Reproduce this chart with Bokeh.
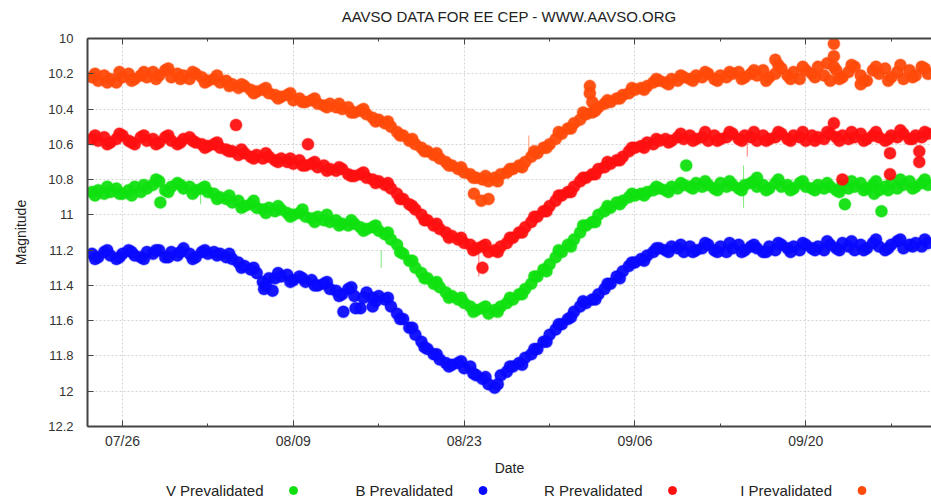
from bokeh.plotting import figure
from bokeh.layouts import column
from bokeh.models import Range1d, FixedTicker, LinearAxis
from bokeh.embed import file_html
from bokeh.resources import INLINE
from bokeh.core.properties import value

# ---------------- data (days relative to 07/26) ----------------
days = [-2.5, -2.0, -1.5, -1.0, -0.5, 0.0, 0.5, 1.0, 1.5, 2.0,
        2.5, 3.0, 3.5, 4.0, 4.5, 5.0, 5.5, 6.0, 6.5, 7.0,
        7.5, 8.0, 8.5, 9.0, 9.5, 10.0, 10.5, 11.0, 11.5, 12.0,
        12.5, 13.0, 13.5, 14.0, 14.5, 15.0, 15.5, 16.0, 16.5, 17.0,
        17.5, 18.0, 18.5, 19.0, 19.5, 20.0, 20.5, 21.0, 21.5, 22.0,
        22.5, 23.0, 23.5, 24.0, 24.5, 25.0, 25.5, 26.0, 26.5, 27.0,
        27.5, 28.0, 28.5, 29.0, 29.5, 30.0, 30.5, 31.0, 31.5, 32.0,
        32.5, 33.0, 33.5, 34.0, 34.5, 35.0, 35.5, 36.0, 36.5, 37.0,
        37.5, 38.0, 38.5, 39.0, 39.5, 40.0, 40.5, 41.0, 41.5, 42.0,
        42.5, 43.0, 43.5, 44.0, 44.5, 45.0, 45.5, 46.0, 46.5, 47.0,
        47.5, 48.0, 48.5, 49.0, 49.5, 50.0, 50.5, 51.0, 51.5, 52.0,
        52.5, 53.0, 53.5, 54.0, 54.5, 55.0, 55.5, 56.0, 56.5, 57.0,
        57.5, 58.0, 58.5, 59.0, 59.5, 60.0, 60.5, 61.0, 61.5, 62.0,
        62.5, 63.0, 63.5, 64.0, 64.5, 65.0, 65.5, 66.0]

mag_V = [10.87, 10.86, 10.88, 10.87, 10.85, 10.88, 10.86, 10.84, 10.87, 10.85,
         10.83, 10.81, 10.86, 10.84, 10.82, 10.85, 10.84, 10.86, 10.85, 10.87,
         10.88, 10.90, 10.91, 10.93, 10.92, 10.95, 10.94, 10.96, 10.97, 10.96,
         10.98, 10.97, 10.99, 11.00, 10.99, 11.01, 11.02, 11.01, 11.03, 11.04,
         11.03, 11.05, 11.06, 11.05, 11.07, 11.08, 11.07, 11.09, 11.11, 11.14,
         11.17, 11.22, 11.26, 11.30, 11.33, 11.36, 11.39, 11.41, 11.44, 11.46,
         11.48, 11.50, 11.52, 11.54, 11.53, 11.56, 11.54, 11.52, 11.50, 11.48,
         11.45, 11.42, 11.39, 11.35, 11.31, 11.28, 11.24, 11.21, 11.17, 11.14,
         11.10, 11.06, 11.04, 11.00, 10.98, 10.96, 10.93, 10.92, 10.90, 10.89,
         10.88, 10.87, 10.86, 10.85, 10.86, 10.84, 10.85, 10.83, 10.84, 10.82,
         10.84, 10.83, 10.85, 10.82, 10.84, 10.83, 10.85, 10.83, 10.82, 10.84,
         10.83, 10.85, 10.82, 10.84, 10.83, 10.85, 10.82, 10.84, 10.85, 10.83,
         10.85, 10.84, 10.86, 10.83, 10.85, 10.84, 10.82, 10.85, 10.83, 10.86,
         10.84, 10.82, 10.85, 10.83, 10.81, 10.84, 10.82, 10.83]

mag_B = [11.22, 11.24, 11.21, 11.23, 11.25, 11.22, 11.20, 11.23, 11.24, 11.21,
         11.22, 11.20, 11.24, 11.21, 11.23, 11.19, 11.22, 11.24, 11.21, 11.22,
         11.21, 11.22, 11.24, 11.25, 11.27, 11.29, 11.31, 11.33, 11.38, 11.36,
         11.36, 11.35, 11.34, 11.37, 11.35, 11.38, 11.37, 11.40, 11.39, 11.42,
         11.43, 11.45, 11.42, 11.46, 11.53, 11.44, 11.47, 11.46, 11.48, 11.52,
         11.56, 11.59, 11.64, 11.68, 11.72, 11.76, 11.79, 11.82, 11.84, 11.85,
         11.84, 11.87, 11.86, 11.91, 11.93, 11.96, 11.98, 11.91, 11.89, 11.86,
         11.84, 11.81, 11.79, 11.76, 11.72, 11.68, 11.65, 11.62, 11.59, 11.55,
         11.52, 11.50, 11.48, 11.45, 11.42, 11.39, 11.35, 11.32, 11.29, 11.27,
         11.25, 11.23, 11.21, 11.19, 11.20, 11.18, 11.19, 11.21, 11.18, 11.20,
         11.19, 11.17, 11.20, 11.18, 11.21, 11.19, 11.17, 11.20, 11.18, 11.19,
         11.21, 11.18, 11.20, 11.17, 11.19, 11.18, 11.20, 11.17, 11.19, 11.18,
         11.20, 11.17, 11.19, 11.16, 11.18, 11.20, 11.17, 11.19, 11.16, 11.18,
         11.20, 11.17, 11.15, 11.19, 11.17, 11.16, 11.18, 11.16]

mag_R = [10.57, 10.58, 10.56, 10.59, 10.57, 10.55, 10.58, 10.60, 10.56, 10.58,
         10.57, 10.59, 10.56, 10.58, 10.60, 10.57, 10.56, 10.59, 10.60, 10.61,
         10.60, 10.62, 10.63, 10.64, 10.66, 10.65, 10.67, 10.66, 10.68, 10.67,
         10.69, 10.68, 10.70, 10.71, 10.69, 10.72, 10.71, 10.73, 10.72, 10.74,
         10.75, 10.74, 10.77, 10.78, 10.77, 10.79, 10.80, 10.81, 10.83, 10.85,
         10.88, 10.91, 10.94, 10.97, 11.00, 11.03, 11.06, 11.08, 11.10, 11.12,
         11.14, 11.16, 11.17, 11.19, 11.18, 11.21, 11.20, 11.18, 11.16, 11.13,
         11.10, 11.07, 11.04, 11.01, 10.98, 10.95, 10.92, 10.89, 10.87, 10.84,
         10.81, 10.79, 10.77, 10.74, 10.73, 10.71, 10.69, 10.67, 10.64, 10.62,
         10.61, 10.59, 10.60, 10.58, 10.57, 10.58, 10.56, 10.57, 10.55, 10.57,
         10.56, 10.58, 10.55, 10.57, 10.56, 10.54, 10.57, 10.55, 10.56, 10.58,
         10.55, 10.57, 10.56, 10.54, 10.57, 10.55, 10.56, 10.58, 10.55, 10.56,
         10.57, 10.54, 10.56, 10.55, 10.57, 10.56, 10.54, 10.57, 10.55, 10.56,
         10.58, 10.55, 10.56, 10.54, 10.57, 10.55, 10.56, 10.54]

mag_I = [10.22, 10.24, 10.21, 10.23, 10.25, 10.22, 10.20, 10.23, 10.21, 10.22,
         10.19, 10.21, 10.18, 10.22, 10.20, 10.21, 10.23, 10.20, 10.22, 10.24,
         10.23, 10.25, 10.24, 10.26, 10.28, 10.27, 10.29, 10.30, 10.29, 10.31,
         10.32, 10.33, 10.32, 10.35, 10.34, 10.36, 10.35, 10.37, 10.38, 10.37,
         10.39, 10.40, 10.39, 10.42, 10.41, 10.43, 10.45, 10.46, 10.48, 10.50,
         10.53, 10.55, 10.58, 10.60, 10.62, 10.64, 10.66, 10.68, 10.70, 10.72,
         10.74, 10.76, 10.77, 10.79, 10.80, 10.81, 10.79, 10.77, 10.76, 10.74,
         10.72, 10.70, 10.67, 10.65, 10.62, 10.60, 10.57, 10.54, 10.51, 10.48,
         10.46, 10.43, 10.42, 10.39, 10.37, 10.36, 10.34, 10.32, 10.31, 10.29,
         10.28, 10.27, 10.25, 10.24, 10.25, 10.23, 10.24, 10.22, 10.23, 10.21,
         10.22, 10.20, 10.23, 10.21, 10.22, 10.20, 10.19, 10.22, 10.20, 10.21,
         10.18, 10.22, 10.20, 10.17, 10.21, 10.19, 10.23, 10.18, 10.20, 10.16,
         10.21, 10.24, 10.18, 10.22, 10.19, 10.16, 10.21, 10.24, 10.18, 10.20,
         10.17, 10.22, 10.19, 10.23, 10.18, 10.21, 10.16, 10.20]

# second nightly observations
days2 = [-2.25, -1.25, -0.25, 0.75, 1.75, 2.75, 3.75, 4.75, 5.75, 6.75,
         7.75, 8.75, 9.75, 10.75, 11.75, 12.75, 13.75, 14.75, 15.75, 16.75,
         17.75, 18.75, 19.75, 20.75, 21.75, 22.75, 23.75, 24.75, 25.75, 26.75,
         27.75, 28.75, 29.75, 30.75, 31.75, 32.75, 33.75, 34.75, 35.75, 36.75,
         37.75, 38.75, 39.75, 40.75, 41.75, 42.75, 43.75, 44.75, 45.75, 46.75,
         47.75, 48.75, 49.75, 50.75, 51.75, 52.75, 53.75, 54.75, 55.75, 56.75,
         57.75, 58.75, 59.75, 60.75, 61.75, 62.75, 63.75, 64.75, 65.75]

mag_V2 = [10.89, 10.84, 10.88, 10.89, 10.83, 10.80, 10.87, 10.83, 10.88, 10.84,
          10.91, 10.89, 10.96, 10.92, 10.99, 10.95, 11.01, 10.97, 11.04, 11.00,
          11.06, 11.03, 11.09, 11.06, 11.10, 11.21, 11.26, 11.36, 11.38, 11.47,
          11.47, 11.55, 11.52, 11.55, 11.47, 11.45, 11.35, 11.32, 11.20, 11.18,
          11.06, 11.04, 10.95, 10.94, 10.88, 10.89, 10.84, 10.87, 10.82, 10.85,
          10.81, 10.86, 10.81, 10.86, 10.81, 10.86, 10.80, 10.86, 10.81, 10.86,
          10.82, 10.87, 10.81, 10.86, 10.81, 10.86, 10.80, 10.85, 10.80]

mag_B2 = [11.25, 11.20, 11.24, 11.21, 11.25, 11.20, 11.24, 11.21, 11.25, 11.20,
          11.23, 11.22, 11.30, 11.30, 11.40, 11.33, 11.38, 11.36, 11.40, 11.38,
          11.46, 11.41, 11.47, 11.49, 11.47, 11.59, 11.64, 11.75, 11.79, 11.86,
          11.83, 11.90, 11.92, 11.96, 11.86, 11.85, 11.76, 11.72, 11.62, 11.58,
          11.49, 11.48, 11.39, 11.36, 11.27, 11.26, 11.19, 11.21, 11.17, 11.21,
          11.16, 11.21, 11.16, 11.21, 11.17, 11.21, 11.16, 11.21, 11.16, 11.20,
          11.15, 11.20, 11.15, 11.20, 11.14, 11.19, 11.14, 11.18, 11.14]

mag_R2 = [10.55, 10.60, 10.54, 10.59, 10.55, 10.60, 10.55, 10.59, 10.58, 10.62,
          10.59, 10.64, 10.63, 10.68, 10.65, 10.70, 10.68, 10.72, 10.70, 10.75,
          10.73, 10.78, 10.76, 10.82, 10.82, 10.91, 10.95, 11.03, 11.05, 11.13,
          11.13, 11.20, 11.17, 11.21, 11.13, 11.10, 11.01, 10.98, 10.89, 10.87,
          10.79, 10.77, 10.70, 10.69, 10.62, 10.62, 10.57, 10.59, 10.54, 10.58,
          10.53, 10.58, 10.53, 10.58, 10.53, 10.58, 10.53, 10.58, 10.53, 10.58,
          10.53, 10.58, 10.53, 10.58, 10.53, 10.57, 10.52, 10.57, 10.53]

mag_I2 = [10.20, 10.25, 10.19, 10.24, 10.19, 10.23, 10.17, 10.23, 10.19, 10.25,
          10.21, 10.27, 10.26, 10.31, 10.28, 10.34, 10.31, 10.36, 10.34, 10.39,
          10.37, 10.42, 10.40, 10.47, 10.47, 10.55, 10.57, 10.64, 10.65, 10.72,
          10.73, 10.79, 10.78, 10.81, 10.74, 10.73, 10.64, 10.62, 10.53, 10.51,
          10.42, 10.41, 10.35, 10.34, 10.28, 10.29, 10.23, 10.26, 10.21, 10.24,
          10.19, 10.24, 10.19, 10.23, 10.18, 10.24, 10.15, 10.23, 10.16, 10.22,
          10.14, 10.23, 10.15, 10.24, 10.16, 10.24, 10.15, 10.22, 10.17]

# isolated observations away from the main band
extra_V_days = [3.1, 46.2, 52.0, 59.2, 61.6, 62.2]
extra_V_mags = [10.93, 10.72, 10.79, 10.94, 10.88, 10.98]
extra_B_days = [11.6, 12.3, 18.1, 19.1, 20.5]
extra_B_mags = [11.42, 11.43, 11.55, 11.53, 11.52]
extra_R_days = [9.3, 15.2, 29.5, 58.3, 59.0, 62.9, 62.9, 65.3, 65.3]
extra_R_mags = [10.49, 10.60, 11.30, 10.48, 10.80, 10.65, 10.77, 10.64, 10.70]
extra_I_days = [28.8, 29.4, 30.0, 38.3, 38.3, 38.5, 53.5, 58.3, 58.3, 58.3, 60.5]
extra_I_mags = [10.88, 10.92, 10.91, 10.27, 10.31, 10.36, 10.12, 10.03, 10.10, 10.16, 10.26]

# error bars
err_days = [6.4, 21.2, 50.9, 33.3, 29.2, 51.2]
err_lo = [10.82, 11.20, 10.72, 10.55, 11.15, 10.58]
err_hi = [10.94, 11.30, 10.96, 10.70, 11.35, 10.67]
err_color = ["#7be87b", "#7be87b", "#7be87b", "#ff9a70", "#ff7b7b", "#ff7b7b"]

title_text = "AAVSO DATA FOR EE CEP - WWW.AAVSO.ORG"
series_names = ["V Prevalidated", "B Prevalidated", "R Prevalidated", "I Prevalidated"]
series_colors = ["#10e010", "#0a0aff", "#ff1010", "#ff4a0a"]

xtick_values = [0, 14, 28, 42, 56]
xtick_labels = ["07/26", "08/09", "08/23", "09/06", "09/20"]
xminor_values = [7, 21, 35, 49, 63]
ytick_values = [10.0, 10.2, 10.4, 10.6, 10.8, 11.0, 11.2, 11.4, 11.6, 11.8, 12.0, 12.2]
ytick_labels = ["10", "10.2", "10.4", "10.6", "10.8", "11", "11.2", "11.4", "11.6", "11.8", "12", "12.2"]

FONT = "Liberation Sans"
AX = "#444444"
W = 931
frame_left = 87


def strip(height):
    # column aligns this strip's frame with the main plot frame (87..931),
    # so the range is set to match pixel positions across the page
    f = figure(width=W, height=height, x_range=Range1d(frame_left, W), y_range=Range1d(0, height),
               output_backend="svg", toolbar_location=None,
               min_border=0, min_border_left=frame_left)
    f.axis.visible = False
    f.grid.visible = False
    f.outline_line_color = None
    return f


# title strip
head = strip(28)
head.text(x=[(frame_left + W) / 2], y=[12], text=[title_text], text_align="center",
          text_baseline="middle", text_font=value(FONT), text_font_size="15px",
          text_color="#222222")

p = figure(width=W, height=450, x_range=Range1d(-2.87, 66.3), y_range=Range1d(12.2, 10.0),
           output_backend="svg", toolbar_location=None,
           min_border_left=frame_left, min_border_right=0, min_border_top=10, min_border_bottom=50)
p.outline_line_color = None
p.background_fill_color = "white"
p.border_fill_color = "white"

bottom = p.below[0]
left = p.left[0]
bottom.ticker = FixedTicker(ticks=xtick_values, minor_ticks=xminor_values)
left.ticker = FixedTicker(ticks=ytick_values, minor_ticks=[])
bottom.major_label_overrides = dict(zip(xtick_values, xtick_labels))
left.major_label_overrides = dict(zip(ytick_values, ytick_labels))

# top frame edge with inward ticks, no labels
top = LinearAxis(ticker=FixedTicker(ticks=xtick_values, minor_ticks=xminor_values))
top.major_label_overrides = {t: "" for t in xtick_values}
top.major_label_standoff = 0
p.add_layout(top, "above")

for ax in [bottom, left, top]:
    ax.axis_line_color = AX
    ax.axis_line_width = 2
    ax.major_tick_in = 6
    ax.major_tick_out = 0
    ax.minor_tick_in = 3
    ax.minor_tick_out = 0
    ax.major_tick_line_color = AX
    ax.minor_tick_line_color = AX
    ax.major_tick_line_width = 1
    ax.major_label_text_font = FONT
    ax.axis_label_text_font = FONT
    ax.axis_label_text_font_style = "normal"
    ax.axis_label_text_color = "#222222"
    ax.major_label_text_color = "#333333"

bottom.major_label_text_font_size = "14px"
left.major_label_text_font_size = "13px"
bottom.axis_label = "Date"
left.axis_label = "Magnitude"
bottom.axis_label_text_font_size = "14px"
left.axis_label_text_font_size = "14px"
bottom.major_label_standoff = 6
bottom.axis_label_standoff = 8
left.major_label_standoff = 14
left.axis_label_standoff = 16

p.xgrid.grid_line_color = "#cfd8e0"
p.xgrid.grid_line_dash = "2 2"
p.ygrid.grid_line_color = "#d4d4d4"
p.ygrid.grid_line_dash = "2 2"

# error bars
p.segment(x0=err_days, y0=err_lo, x1=err_days, y1=err_hi, line_color=err_color, line_width=1)

all_mags = [mag_V, mag_B, mag_R, mag_I]
all_mags2 = [mag_V2, mag_B2, mag_R2, mag_I2]
extra_d = [extra_V_days, extra_B_days, extra_R_days, extra_I_days]
extra_m = [extra_V_mags, extra_B_mags, extra_R_mags, extra_I_mags]
for mags, mags2, ed, em, col in zip(all_mags, all_mags2, extra_d, extra_m, series_colors):
    n = min(len(days), len(mags))
    n2 = min(len(days2), len(mags2))
    xs = days[:n] + days2[:n2] + ed
    ys = mags[:n] + mags2[:n2] + em
    p.scatter(x=xs, y=ys, size=12, fill_color=col, fill_alpha=0.95,
              line_color=col, line_alpha=0.3, line_width=1.5)

# legend strip (labels left of markers, as in the original)
leg = strip(22)
first_dot, step = 293, 189.5
dot_x = [first_dot + i * step for i in range(len(series_names))]
txt_x = [x - 30 for x in dot_x]
leg.text(x=txt_x, y=[10] * 4, text=series_names, text_align="right", text_baseline="middle",
         text_font=value(FONT), text_font_size="15px", text_color="#222222")
leg.scatter(x=dot_x, y=[10] * 4, size=8, color=series_colors)

layout = column(head, p, leg, spacing=0)
open("out.html", "w").write(file_html(layout, INLINE))
